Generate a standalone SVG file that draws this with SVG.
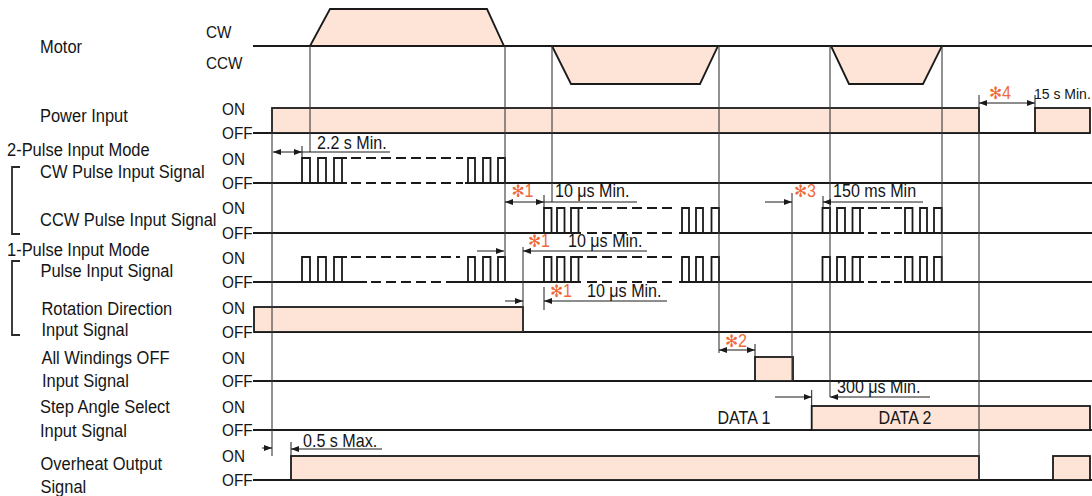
<svg xmlns="http://www.w3.org/2000/svg" width="1092" height="496" viewBox="0 0 1092 496">
<style>
.sig{fill:none;stroke:#1a1a1a;stroke-width:1.8}
.box{fill:#fde4d6;stroke:#1a1a1a;stroke-width:1.8}
.dash{fill:none;stroke:#1a1a1a;stroke-width:1.8;stroke-dasharray:10 5}
.dash2{fill:none;stroke:#1a1a1a;stroke-width:1.8;stroke-dasharray:9 4}
.guide{fill:none;stroke:#3a3a3a;stroke-width:1.1}
.dim{fill:none;stroke:#1a1a1a;stroke-width:1}
.brk{fill:none;stroke:#2a2a2a;stroke-width:1.8}
text{font-family:"Liberation Sans",Arial,sans-serif;fill:#151515;transform-box:fill-box;transform-origin:0 50%}
.lbl{font-size:18.3px;transform:scaleX(0.9)}
.lvl{font-size:17px;transform:scaleX(0.9)}
.val{font-size:17.5px;transform:scaleX(0.92)}
.mid{transform-origin:50% 50%}
.note{fill:#ef6a3a;font-size:17.5px;transform:scaleX(0.92)}
.ast{font-family:"DejaVu Sans",sans-serif;font-size:17px;fill:#ef6a3a}
.edge{font-size:14px}
</style>
<defs>
<marker id="ah" viewBox="0 0 8 6" refX="8" refY="3" markerWidth="8" markerHeight="6" markerUnits="userSpaceOnUse" orient="auto-start-reverse"><path d="M0,0 L8,3 L0,6 z" fill="#1a1a1a"/></marker>
</defs>
<rect width="1092" height="496" fill="#ffffff"/>

<g id="labels">
<text class="lbl" x="40" y="53">Motor</text>
<text class="lbl" x="40" y="122">Power Input</text>
<text class="lbl" x="7" y="156">2-Pulse Input Mode</text>
<text class="lbl" x="40" y="178">CW Pulse Input Signal</text>
<text class="lbl" x="40" y="226">CCW Pulse Input Signal</text>
<text class="lbl" x="7" y="256">1-Pulse Input Mode</text>
<text class="lbl" x="40.5" y="277">Pulse Input Signal</text>
<text class="lbl" x="41.5" y="315">Rotation Direction</text>
<text class="lbl" x="41.5" y="336">Input Signal</text>
<text class="lbl" x="41.5" y="364">All Windings OFF</text>
<text class="lbl" x="42" y="387">Input Signal</text>
<text class="lbl" x="40" y="413">Step Angle Select</text>
<text class="lbl" x="40" y="437">Input Signal</text>
<text class="lbl" x="40.5" y="470">Overheat Output</text>
<text class="lbl" x="40.5" y="493">Signal</text>
</g>

<g id="brackets">
<path class="brk" d="M20,167 H12 V234 H20"/>
<path class="brk" d="M20,261 H12 V335 H20"/>
</g>

<g id="motor">
<text class="lvl" x="206" y="38">CW</text>
<text class="lvl" x="206" y="69.5">CCW</text>
<path class="box" d="M310,46 L330,9 H487 L504,46 Z"/>
<path class="box" d="M552,46 L571,84 H700 L718,46 Z"/>
<path class="box" d="M831,46 L849,84 H923 L942,46 Z"/>
<path class="sig" d="M253,46 H1092"/>
</g>

<g id="power">
<text class="lvl" x="222" y="115">ON</text>
<text class="lvl" x="222" y="139">OFF</text>
<path class="sig" d="M253,133 H1090"/>
<rect class="box" x="272" y="108" width="707" height="25"/>
<rect class="box" x="1035" y="108" width="55" height="25"/>
</g>

<g id="cw-pulse">
<text class="lvl" x="222" y="165">ON</text>
<text class="lvl" x="222" y="189">OFF</text>
<path class="sig" d="M253,183 H347 M465,183 H1092"/>
<path class="dash" d="M351,183 H463 M351,158 H463"/>
<path class="sig" d="M302,183V158H310V183 M318,183V158H326V183 M334,183V158H342V183 M342,158H347 M468,183V158H475V183 M483,183V158H490.5V183 M498,183V158H505V183"/>
</g>

<g id="ccw-pulse">
<text class="lvl" x="222" y="214">ON</text>
<text class="lvl" x="222" y="239">OFF</text>
<path class="sig" d="M253,233 H581 M679,233 H864 M904,233 H1092"/>
<path class="dash" d="M587,233 H677 M587,208 H677"/>
<path class="dash2" d="M868,233 H902 M868,208 H902"/>
<path class="sig" d="M544,233V208H551.5V233 M557,233V208H564.5V233 M571,233V208H578.5V233 M578.5,208H583 M682,233V208H689V233 M696,233V208H703V233 M711.5,233V208H719V233 M822.5,233V208H830V233 M837,233V208H845V233 M852.5,233V208H860V233 M860,208H864 M905,233V208H912.5V233 M920,233V208H927V233 M934,233V208H941.7V233"/>
</g>

<g id="pulse">
<text class="lvl" x="222" y="264">ON</text>
<text class="lvl" x="222" y="288">OFF</text>
<path class="sig" d="M253,282 H367 M452,282 H581 M679,282 H864 M904,282 H1092"/>
<path class="dash" d="M371,282 H452 M351,257 H460 M587,282 H677 M587,257 H677"/>
<path class="dash2" d="M868,282 H902 M868,257 H902"/>
<path class="sig" d="M302,282V257H310V282 M318,282V257H326V282 M334,282V257H342V282 M342,257H347 M468,282V257H475V282 M483,282V257H490.5V282 M498,282V257H505V282 M544,282V257H551.5V282 M557,282V257H564.5V282 M571,282V257H578.5V282 M578.5,257H583 M682,282V257H689V282 M696,282V257H703V282 M711.5,282V257H719V282 M822.5,282V257H830V282 M837,282V257H845V282 M852.5,282V257H860V282 M860,257H864 M905,282V257H912.5V282 M920,282V257H927V282 M934,282V257H941.7V282"/>
</g>

<g id="rotation">
<text class="lvl" x="222" y="314">ON</text>
<text class="lvl" x="222" y="338">OFF</text>
<path class="sig" d="M254,332 H1092"/>
<rect class="box" x="254" y="307" width="269" height="25"/>
</g>

<g id="windings">
<text class="lvl" x="222" y="364">ON</text>
<text class="lvl" x="222" y="387">OFF</text>
<path class="sig" d="M253,381 H1092"/>
<rect class="box" x="755" y="357" width="38" height="24"/>
</g>

<g id="step">
<text class="lvl" x="222" y="413">ON</text>
<text class="lvl" x="222" y="436">OFF</text>
<path class="sig" d="M253,430 H1092"/>
<rect class="box" x="811.7" y="406" width="278.3" height="24"/>
<text class="val mid" x="744" y="424" text-anchor="middle">DATA 1</text>
<text class="val mid" x="905" y="424" text-anchor="middle">DATA 2</text>
</g>

<g id="overheat">
<text class="lvl" x="222" y="462">ON</text>
<text class="lvl" x="222" y="486">OFF</text>
<path class="sig" d="M253,480 H1092"/>
<rect class="box" x="291" y="456" width="688" height="24"/>
<rect class="box" x="1053" y="456" width="37" height="24"/>
</g>

<g id="connectors">
<path class="guide" d="M310,46 V152 M272,108 V456 M505,46 V282 M552,46 V202 M523,247 V332 M719,46 V353 M792,193 V381 M830,46 V397 M942,46 V282 M979,95 V480"/>
<path class="dim" d="M302,146 V158 M544,195 V208 M544,287 V310 M755,344 V357 M823,196 V208 M811.7,390 V406 M1035,95 V108 M291,442 V456"/>
<path class="dim" d="M273,152 H302" marker-start="url(#ah)" marker-end="url(#ah)"/>
<path class="dim" d="M302,152 H390"/>
<path class="dim" d="M505,202 H544" marker-start="url(#ah)" marker-end="url(#ah)"/>
<path class="dim" d="M544,202 H637"/>
<path class="dim" d="M477,251 H504" marker-end="url(#ah)"/>
<path class="dim" d="M523,251 H647" marker-start="url(#ah)"/>
<path class="dim" d="M505,301 H523" marker-end="url(#ah)"/>
<path class="dim" d="M544,301 H667" marker-start="url(#ah)"/>
<path class="dim" d="M719,350 H755" marker-start="url(#ah)" marker-end="url(#ah)"/>
<path class="dim" d="M765,202 H792" marker-end="url(#ah)"/>
<path class="dim" d="M823,202 H923" marker-start="url(#ah)"/>
<path class="dim" d="M775,397 H811.7" marker-end="url(#ah)"/>
<path class="dim" d="M830,397 H930" marker-start="url(#ah)"/>
<path class="dim" d="M979,103 H1035" marker-start="url(#ah)" marker-end="url(#ah)"/>
<path class="dim" d="M262,448 H272" marker-end="url(#ah)"/>
<path class="dim" d="M291,449 H382" marker-start="url(#ah)"/>
</g>

<g id="annotations">
<text class="val" x="317" y="149">2.2 s Min.</text>
<text class="note" x="511.5" y="197"><tspan class="ast">✻</tspan>1</text>
<text class="val" x="555" y="197">10 μs Min.</text>
<text class="note" x="528" y="247"><tspan class="ast">✻</tspan>1</text>
<text class="val" x="568" y="247">10 μs Min.</text>
<text class="note" x="550" y="297"><tspan class="ast">✻</tspan>1</text>
<text class="val" x="587" y="297">10 μs Min.</text>
<text class="note" x="725" y="347"><tspan class="ast">✻</tspan>2</text>
<text class="note" x="794" y="197"><tspan class="ast">✻</tspan>3</text>
<text class="val" x="833" y="197">150 ms Min</text>
<text class="val" x="837" y="393">300 μs Min.</text>
<text class="note" x="989" y="99"><tspan class="ast">✻</tspan>4</text>
<text class="edge" x="1034" y="99">15 s Min.</text>
<text class="val" x="303" y="447">0.5 s Max.</text>
</g>
</svg>
